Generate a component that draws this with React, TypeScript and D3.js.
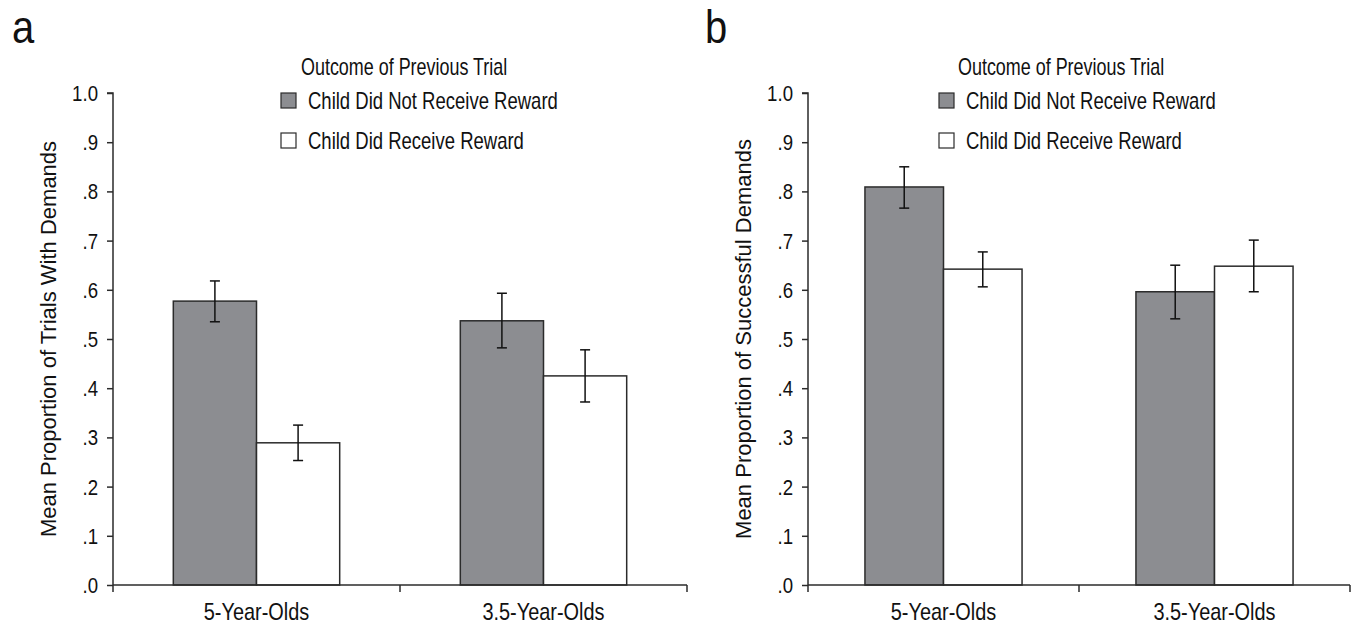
import { useEffect, useRef } from 'react'
import * as d3 from 'd3'

const categories = ['5-Year-Olds', '3.5-Year-Olds']
const seriesNames = ['Child Did Not Receive Reward', 'Child Did Receive Reward']
const seriesFills = ['#8c8d91', '#ffffff']
const yTicks = [0, 0.1, 0.2, 0.3, 0.4, 0.5, 0.6, 0.7, 0.8, 0.9, 1.0]
const yTickLabels = ['.0', '.1', '.2', '.3', '.4', '.5', '.6', '.7', '.8', '.9', '1.0']

// panel a: trials with demands
const demandsNoReward = [0.577, 0.537]
const demandsNoRewardLo = [0.535, 0.482]
const demandsNoRewardHi = [0.618, 0.593]
const demandsReward = [0.289, 0.425]
const demandsRewardLo = [0.253, 0.372]
const demandsRewardHi = [0.325, 0.478]

// panel b: successful demands
const successNoReward = [0.809, 0.596]
const successNoRewardLo = [0.766, 0.541]
const successNoRewardHi = [0.85, 0.65]
const successReward = [0.642, 0.648]
const successRewardLo = [0.606, 0.596]
const successRewardHi = [0.677, 0.701]

// no condensed face is installed, so squeeze Liberation Sans horizontally
const FONT = '"Liberation Sans", Arial, sans-serif'
const INK = '#2b2b2b'

interface Panel {
  letter: string
  yTitle: string
  left: number
  right: number
  legendX: number
  titleX: number
  letterX: number
  yTitleX: number
  means: number[][]
  lo: number[][]
  hi: number[][]
}

const panels: Panel[] = [
  {
    letter: 'a',
    yTitle: 'Mean Proportion of Trials With Demands',
    left: 113,
    right: 687,
    legendX: 281,
    titleX: 301,
    letterX: 12,
    yTitleX: 56,
    means: [demandsNoReward, demandsReward],
    lo: [demandsNoRewardLo, demandsRewardLo],
    hi: [demandsNoRewardHi, demandsRewardHi],
  },
  {
    letter: 'b',
    yTitle: 'Mean Proportion of Successful Demands',
    left: 808,
    right: 1350,
    legendX: 939,
    titleX: 958,
    letterX: 705,
    yTitleX: 751,
    means: [successNoReward, successReward],
    lo: [successNoRewardLo, successRewardLo],
    hi: [successNoRewardHi, successRewardHi],
  },
]

type Sel = d3.Selection<SVGGElement, unknown, null, undefined>

function narrowText(
  parent: Sel,
  x: number,
  y: number,
  text: string,
  size: number,
  sx = 0.8,
  anchor = 'start',
) {
  parent.append('text')
    .attr('transform', `translate(${x},${y}) scale(${sx},1)`)
    .attr('text-anchor', anchor)
    .attr('font-family', FONT)
    .attr('font-size', size)
    .attr('fill', '#111')
    .text(text)
}

export default function App() {
  const svgRef = useRef<SVGSVGElement>(null)

  useEffect(() => {
    if (!svgRef.current) return
    const svg = d3.select(svgRef.current)
    svg.selectAll('*').remove()

    const top = 93
    const bottom = 585
    const y = d3.scaleLinear().domain([0, 1]).range([bottom, top])

    panels.forEach(p => {
      const g = svg.append('g') as unknown as Sel

      const x = d3.scaleBand<string>()
        .domain(categories)
        .range([p.left, p.right])
        .paddingInner(0)
        .paddingOuter(0)

      const inner = d3.scaleBand<string>()
        .domain(seriesNames)
        .range([0, x.bandwidth()])
        .paddingInner(0)
        .paddingOuter(0.725)

      // panel letter
      narrowText(g, p.letterX, 43, p.letter, 47, 0.85)

      // bars
      seriesNames.forEach((s, si) => {
        categories.forEach((c, ci) => {
          const bx = (x(c) || 0) + (inner(s) || 0)
          const v = p.means[si][ci]
          g.append('rect')
            .attr('x', bx)
            .attr('y', y(v))
            .attr('width', inner.bandwidth())
            .attr('height', y(0) - y(v))
            .attr('fill', seriesFills[si])
            .attr('stroke', INK)
            .attr('stroke-width', 1.5)
        })
      })

      // error bars
      seriesNames.forEach((s, si) => {
        categories.forEach((c, ci) => {
          const cx = (x(c) || 0) + (inner(s) || 0) + inner.bandwidth() / 2
          const y0 = y(p.lo[si][ci])
          const y1 = y(p.hi[si][ci])
          const eg = g.append('g').attr('stroke', '#111').attr('stroke-width', 1.5)
          eg.append('line').attr('x1', cx).attr('x2', cx).attr('y1', y0).attr('y2', y1)
          eg.append('line').attr('x1', cx - 5).attr('x2', cx + 5).attr('y1', y0).attr('y2', y0)
          eg.append('line').attr('x1', cx - 5).attr('x2', cx + 5).attr('y1', y1).attr('y2', y1)
        })
      })

      // y axis (labels drawn separately so they can be condensed)
      const yAxis = d3.axisLeft(y)
        .tickValues(yTicks)
        .tickSize(6)
        .tickFormat(() => '')
      const ya = g.append('g')
        .attr('transform', `translate(${p.left},0)`)
        .call(yAxis)
      ya.select('.domain').attr('stroke', INK).attr('stroke-width', 1.5).attr('d', `M-6,${top}H0V${bottom + 7}`)
      ya.selectAll('.tick line').attr('stroke', INK).attr('stroke-width', 1.5)
      yTicks.forEach((t, i) => {
        narrowText(g, p.left - 15, y(t) + 8, yTickLabels[i], 23, 0.81, 'end')
      })

      // x axis
      const edges = [p.left, (x(categories[1]) || 0), p.right]
      const xa = g.append('g')
      xa.append('line')
        .attr('x1', p.left).attr('x2', p.right)
        .attr('y1', bottom).attr('y2', bottom)
        .attr('stroke', INK).attr('stroke-width', 1.5)
      xa.selectAll('.xtick')
        .data(edges.slice(1))
        .enter()
        .append('line')
        .attr('x1', d => d).attr('x2', d => d)
        .attr('y1', bottom).attr('y2', bottom + 7)
        .attr('stroke', INK).attr('stroke-width', 1.5)
      categories.forEach(c => {
        narrowText(g, (x(c) || 0) + x.bandwidth() / 2, 620, c, 24, 0.83, 'middle')
      })

      // y title
      g.append('text')
        .attr('transform', `translate(${p.yTitleX},${(top + bottom) / 2}) rotate(-90)`)
        .attr('text-anchor', 'middle')
        .attr('font-family', FONT)
        .attr('font-size', 22)
        .attr('fill', '#111')
        .text(p.yTitle)

      // legend
      narrowText(g, p.titleX, 75, 'Outcome of Previous Trial', 23, 0.78)
      seriesNames.forEach((s, si) => {
        const ly = 93 + si * 40
        g.append('rect')
          .attr('x', p.legendX)
          .attr('y', ly)
          .attr('width', 15)
          .attr('height', 15)
          .attr('fill', seriesFills[si])
          .attr('stroke', INK)
          .attr('stroke-width', 1.2)
        narrowText(g, p.legendX + 27, ly + 16, s, 23, 0.805)
      })
    })
  }, [])

  return (
    <svg
      ref={svgRef}
      width={1358}
      height={626}
      style={{ position: 'absolute', left: 0, top: 0, background: '#fff' }}
    />
  )
}
